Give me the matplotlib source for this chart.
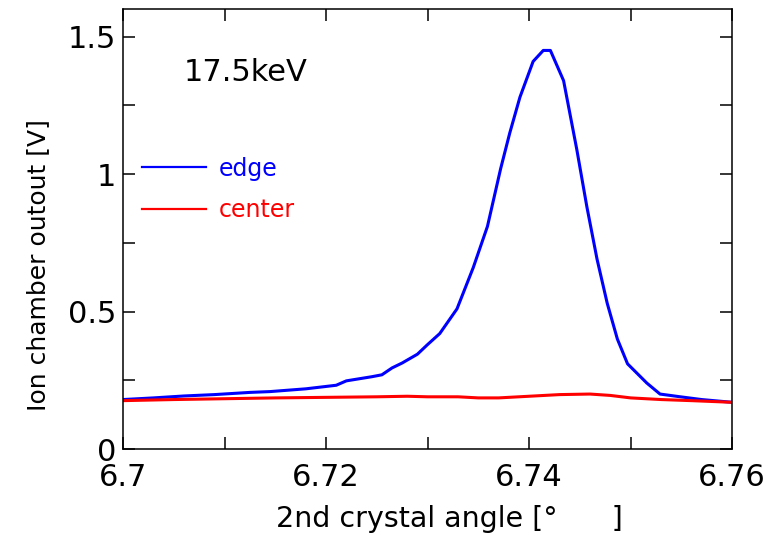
import numpy as np
import matplotlib as mpl
mpl.use('Agg')
import matplotlib.pyplot as plt
from matplotlib.ticker import MultipleLocator

plt.rcParams['font.family'] = ['DejaVu Sans']

# ==== data ====
# edge (blue)
edge_x = [6.700, 6.703, 6.706, 6.709, 6.7125, 6.7145, 6.718, 6.721, 6.722, 6.7245,
          6.7255, 6.7265, 6.7275, 6.729, 6.730, 6.7312, 6.7329, 6.7345, 6.7359, 6.7372,
          6.7381, 6.7391, 6.7404, 6.7414, 6.7421, 6.7434, 6.7447, 6.7457, 6.7467, 6.7477,
          6.7487, 6.7497, 6.7516, 6.7529, 6.7549, 6.757, 6.760]
edge_y = [0.180, 0.186, 0.193, 0.198, 0.206, 0.209, 0.219, 0.232, 0.248, 0.263,
          0.270, 0.295, 0.313, 0.345, 0.380, 0.42, 0.51, 0.66, 0.81, 1.02,
          1.15, 1.28, 1.41, 1.45, 1.45, 1.34, 1.09, 0.88, 0.69, 0.53,
          0.40, 0.31, 0.24, 0.20, 0.19, 0.18, 0.17]

# center (red)
center_x = [6.700, 6.705, 6.710, 6.715, 6.720, 6.725, 6.728, 6.730, 6.733, 6.735,
            6.737, 6.740, 6.743, 6.746, 6.748, 6.750, 6.753, 6.756, 6.760]
center_y = [0.176, 0.180, 0.183, 0.186, 0.188, 0.190, 0.192, 0.190, 0.190, 0.186,
            0.186, 0.192, 0.198, 0.200, 0.195, 0.186, 0.180, 0.176, 0.170]

xtick_vals = [6.7, 6.72, 6.74, 6.76]
xtick_text = ['6.7', '6.72', '6.74', '6.76']
ytick_vals = [0, 0.5, 1, 1.5]
ytick_text = ['0', '0.5', '1', '1.5']

# ==== plot ====
fig = plt.figure(figsize=(7.69, 5.41), dpi=100)
ax = fig.add_axes([0.160, 0.170, 0.792, 0.813])

ax.plot(edge_x, edge_y, color='#0000ff', lw=2.2, label='edge')
ax.plot(center_x, center_y, color='#ff0000', lw=2.2, label='center')

ax.set_xlim(6.7, 6.76)
ax.set_ylim(0, 1.6)

ax.xaxis.set_minor_locator(MultipleLocator(0.01))
ax.yaxis.set_minor_locator(MultipleLocator(0.25))
ax.set_xticks(xtick_vals)
ax.set_xticklabels(xtick_text)
ax.set_yticks(ytick_vals)
ax.set_yticklabels(ytick_text)

ax.tick_params(which='both', direction='in', top=True, right=True,
               length=8.5, width=1.1, labelsize=22)
ax.tick_params(axis='x', pad=10)
ax.tick_params(axis='y', pad=5)
for s in ax.spines.values():
    s.set_linewidth(1.1)

ax.set_xlabel('2nd crystal angle [\u00b0      ]', fontsize=20.5)
ax.xaxis.set_label_coords(0.536, -0.127)
ax.set_ylabel('Ion chamber outout [V]', fontsize=18)
ax.yaxis.set_label_coords(-0.12, 0.418)

ax.text(0.099, 0.857, '17.5keV', transform=ax.transAxes, fontsize=22,
        va='center', ha='left')

leg = ax.legend(loc='center left', bbox_to_anchor=(0.0, 0.59), frameon=False,
                fontsize=17, handlelength=2.7, handletextpad=0.55,
                labelspacing=0.75, labelcolor='linecolor', borderaxespad=0.4)
for line in leg.get_lines():
    line.set_linewidth(1.6)

fig.savefig('out.png', dpi=100)
